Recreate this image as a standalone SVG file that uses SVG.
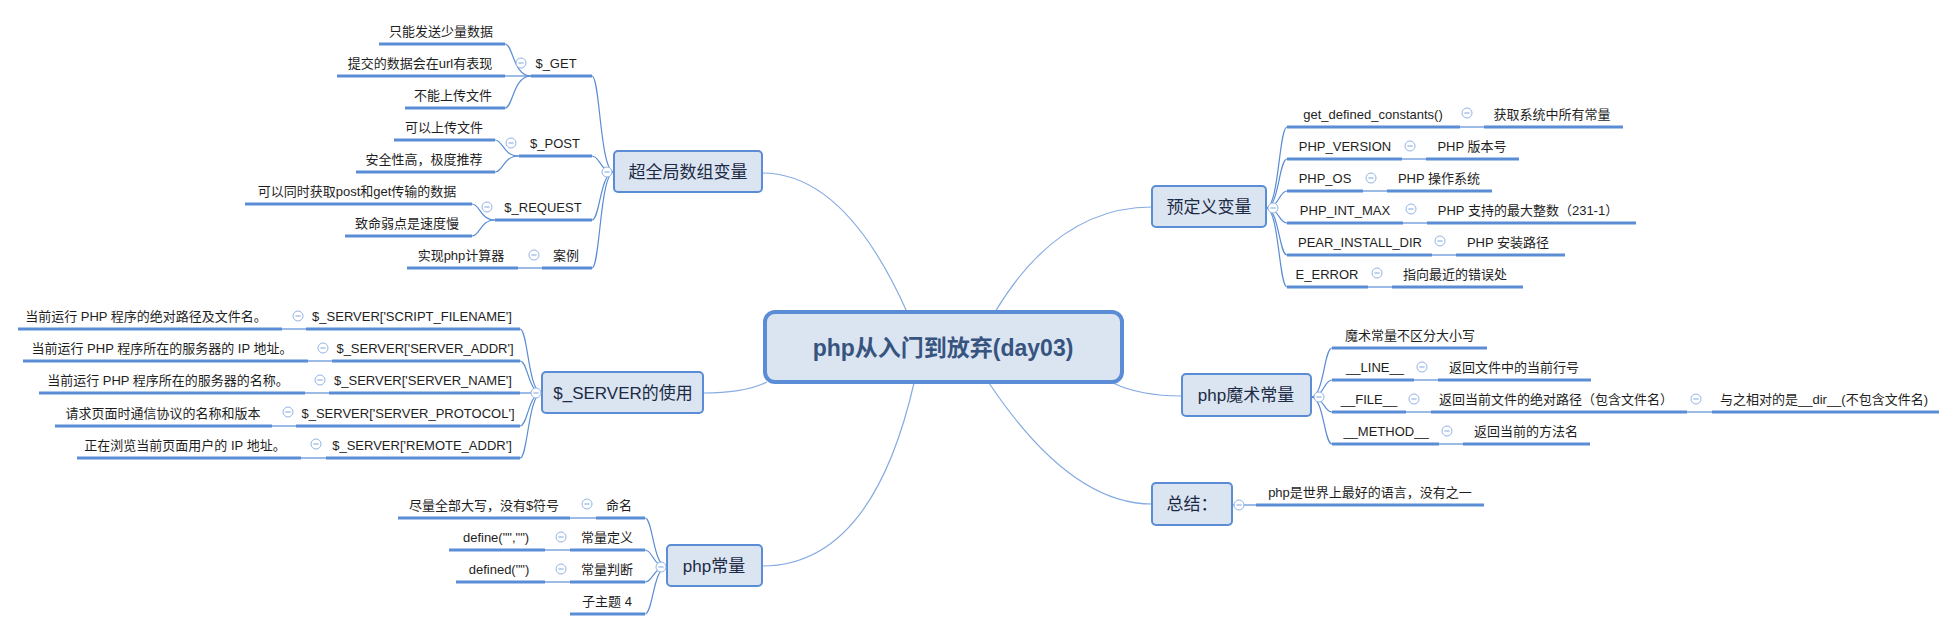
<svg xmlns="http://www.w3.org/2000/svg" width="1957" height="631" viewBox="0 0 1957 631">
<style>
.bg{fill:#ffffff}
.u{stroke:#5a8dd6;stroke-width:3;fill:none}
.l{stroke:#5a8dd6;stroke-width:1.2;fill:none}
.m{stroke:#86abe2;stroke-width:1.2;fill:none}
.t{font-family:"Liberation Sans","Noto Sans CJK SC",sans-serif;font-size:13px;fill:#1e1e1e;text-anchor:middle}
.bt{font-family:"Liberation Sans","Noto Sans CJK SC",sans-serif;font-size:17px;fill:#1d2a44;text-anchor:middle}
.ct{font-family:"Liberation Sans","Noto Sans CJK SC",sans-serif;font-size:23px;font-weight:bold;fill:#37547f;text-anchor:middle}
.box{fill:#dbe5f2;stroke:#5a8dd6;stroke-width:2}
.cbox{fill:#dbe5f2;stroke:#5a8dd6;stroke-width:4}
.tg{fill:#ffffff;stroke:#93b4e4;stroke-width:1}
.tm{stroke:#93b4e4;stroke-width:1.2}
</style>
<defs>
<g id="tog"><circle class="tg" cx="0" cy="0" r="5"/><line class="tm" x1="-2.6" y1="0" x2="2.6" y2="0"/></g>
</defs>
<rect class="bg" x="0" y="0" width="1957" height="631"/>

<g id="connectors">
<!-- central to branches -->
<path class="m" d="M907,312 Q845,173 762,173"/>
<path class="m" d="M995,312 Q1058,207 1152,207"/>
<path class="m" d="M767,382 Q745,393 703,393"/>
<path class="m" d="M1113,383 Q1140,396 1182,396"/>
<path class="m" d="M914,383 Q872,566 762,566"/>
<path class="m" d="M989,383 Q1070,504 1152,504"/>
<!-- 超全局数组变量 bracket -->
<path class="l" d="M592,76 C600,76 600,172 614,172"/>
<path class="l" d="M592,156 C600,156 600,172 614,172"/>
<path class="l" d="M592,220 C600,220 600,172 614,172"/>
<path class="l" d="M592,268 C600,268 600,172 614,172"/>
<!-- $_GET -->
<path class="l" d="M505,44 C513,44 513,76 531,76"/>
<path class="l" d="M505,76 L531,76"/>
<path class="l" d="M505,108 C513,108 513,76 531,76"/>
<!-- $_POST -->
<path class="l" d="M495,140 C503,140 503,156 519,156"/>
<path class="l" d="M495,172 C503,172 503,156 519,156"/>
<!-- $_REQUEST -->
<path class="l" d="M472,204 C480,204 480,220 495,220"/>
<path class="l" d="M472,236 C480,236 480,220 495,220"/>
<!-- 案例 -->
<path class="l" d="M518,268 L542,268"/>
<!-- $_SERVER bracket -->
<path class="l" d="M520,329 C528,329 528,393 542,393"/>
<path class="l" d="M520,361 C528,361 528,393 542,393"/>
<path class="l" d="M520,393 L542,393"/>
<path class="l" d="M520,426 C528,426 528,393 542,393"/>
<path class="l" d="M520,458 C528,458 528,393 542,393"/>
<path class="l" d="M282,329 L306,329"/>
<path class="l" d="M308,361 L332,361"/>
<path class="l" d="M305,393 L329,393"/>
<path class="l" d="M272,426 L296,426"/>
<path class="l" d="M301,458 L326,458"/>
<!-- php常量 bracket -->
<path class="l" d="M645,518 C653,518 653,567 667,567"/>
<path class="l" d="M645,550 C653,550 653,567 667,567"/>
<path class="l" d="M645,582 C653,582 653,567 667,567"/>
<path class="l" d="M645,614 C653,614 653,567 667,567"/>
<path class="l" d="M570,518 L596,518"/>
<path class="l" d="M545,550 L570,550"/>
<path class="l" d="M545,582 L570,582"/>
<!-- 预定义变量 bracket -->
<path class="l" d="M1266,208 C1279,208 1279,127 1287,127"/>
<path class="l" d="M1266,208 C1279,208 1279,159 1287,159"/>
<path class="l" d="M1266,208 C1279,208 1279,191 1287,191"/>
<path class="l" d="M1266,208 C1279,208 1279,223 1287,223"/>
<path class="l" d="M1266,208 C1279,208 1279,255 1287,255"/>
<path class="l" d="M1266,208 C1279,208 1279,287 1287,287"/>
<path class="l" d="M1460,127 L1484,127"/>
<path class="l" d="M1402,159 L1426,159"/>
<path class="l" d="M1363,191 L1387,191"/>
<path class="l" d="M1403,223 L1427,223"/>
<path class="l" d="M1432,255 L1456,255"/>
<path class="l" d="M1368,287 L1392,287"/>
<!-- php魔术常量 bracket -->
<path class="l" d="M1311,397 C1324,397 1324,348 1332,348"/>
<path class="l" d="M1311,397 C1324,397 1324,380 1332,380"/>
<path class="l" d="M1311,397 C1324,397 1324,412 1332,412"/>
<path class="l" d="M1311,397 C1324,397 1324,444 1332,444"/>
<path class="l" d="M1414,380 L1438,380"/>
<path class="l" d="M1406,412 L1431,412"/>
<path class="l" d="M1687,412 L1712,412"/>
<path class="l" d="M1439,444 L1463,444"/>
<!-- 总结 -->
<path class="l" d="M1232,505 L1256,505"/>
</g>

<g id="central">
<rect class="cbox" x="765" y="312" width="357" height="70" rx="10"/>
<text class="ct" x="943" y="356">php从入门到放弃(day03)</text>
</g>

<!-- 超全局数组变量 -->
<g id="n-superglobal">
<rect class="box" x="614" y="151" width="148" height="41" rx="4"/>
<text class="bt" x="688" y="178">超全局数组变量</text>
<use href="#tog" x="607" y="172"/>
</g>
<g id="n-get">
<line class="u" x1="531" y1="76" x2="592" y2="76"/>
<text class="t" x="556" y="68">$_GET</text>
<use href="#tog" x="521" y="63"/>
</g>
<g id="n-get-1"><line class="u" x1="379" y1="44" x2="505" y2="44"/><text class="t" x="441" y="36">只能发送少量数据</text></g>
<g id="n-get-2"><line class="u" x1="337" y1="76" x2="505" y2="76"/><text class="t" x="420" y="68">提交的数据会在url有表现</text></g>
<g id="n-get-3"><line class="u" x1="405" y1="108" x2="505" y2="108"/><text class="t" x="453" y="100">不能上传文件</text></g>
<g id="n-post">
<line class="u" x1="519" y1="156" x2="592" y2="156"/>
<text class="t" x="555" y="148">$_POST</text>
<use href="#tog" x="511" y="143"/>
</g>
<g id="n-post-1"><line class="u" x1="394" y1="140" x2="495" y2="140"/><text class="t" x="444" y="132">可以上传文件</text></g>
<g id="n-post-2"><line class="u" x1="356" y1="172" x2="495" y2="172"/><text class="t" x="424" y="164">安全性高，极度推荐</text></g>
<g id="n-request">
<line class="u" x1="495" y1="220" x2="592" y2="220"/>
<text class="t" x="543" y="212">$_REQUEST</text>
<use href="#tog" x="487" y="207"/>
</g>
<g id="n-request-1"><line class="u" x1="245" y1="204" x2="472" y2="204"/><text class="t" x="357" y="196">可以同时获取post和get传输的数据</text></g>
<g id="n-request-2"><line class="u" x1="345" y1="236" x2="472" y2="236"/><text class="t" x="407" y="228">致命弱点是速度慢</text></g>
<g id="n-case">
<line class="u" x1="542" y1="268" x2="592" y2="268"/>
<text class="t" x="566" y="260">案例</text>
<use href="#tog" x="534" y="255"/>
</g>
<g id="n-case-1"><line class="u" x1="407" y1="268" x2="518" y2="268"/><text class="t" x="461" y="260">实现php计算器</text></g>

<!-- $_SERVER的使用 -->
<g id="n-server">
<rect class="box" x="542" y="372" width="161" height="41" rx="4"/>
<text class="bt" x="623" y="399">$_SERVER的使用</text>
<use href="#tog" x="536" y="393"/>
</g>
<g id="n-s1">
<line class="u" x1="306" y1="329" x2="520" y2="329"/>
<text class="t" x="412" y="321">$_SERVER['SCRIPT_FILENAME']</text>
<use href="#tog" x="298" y="316"/>
</g>
<g id="n-s1-1"><line class="u" x1="18" y1="329" x2="282" y2="329"/><text class="t" x="146" y="321">当前运行 PHP 程序的绝对路径及文件名。</text></g>
<g id="n-s2">
<line class="u" x1="332" y1="361" x2="520" y2="361"/>
<text class="t" x="425" y="353">$_SERVER['SERVER_ADDR']</text>
<use href="#tog" x="323" y="348"/>
</g>
<g id="n-s2-1"><line class="u" x1="23" y1="361" x2="308" y2="361"/><text class="t" x="162" y="353">当前运行 PHP 程序所在的服务器的 IP 地址。</text></g>
<g id="n-s3">
<line class="u" x1="329" y1="393" x2="520" y2="393"/>
<text class="t" x="423" y="385">$_SERVER['SERVER_NAME']</text>
<use href="#tog" x="320" y="380"/>
</g>
<g id="n-s3-1"><line class="u" x1="39" y1="393" x2="305" y2="393"/><text class="t" x="168" y="385">当前运行 PHP 程序所在的服务器的名称。</text></g>
<g id="n-s4">
<line class="u" x1="296" y1="426" x2="520" y2="426"/>
<text class="t" x="408" y="418">$_SERVER['SERVER_PROTOCOL']</text>
<use href="#tog" x="288" y="412"/>
</g>
<g id="n-s4-1"><line class="u" x1="55" y1="426" x2="272" y2="426"/><text class="t" x="163" y="418">请求页面时通信协议的名称和版本</text></g>
<g id="n-s5">
<line class="u" x1="326" y1="458" x2="520" y2="458"/>
<text class="t" x="422" y="450">$_SERVER['REMOTE_ADDR']</text>
<use href="#tog" x="316" y="444"/>
</g>
<g id="n-s5-1"><line class="u" x1="77" y1="458" x2="301" y2="458"/><text class="t" x="185" y="450">正在浏览当前页面用户的 IP 地址。</text></g>

<!-- php常量 -->
<g id="n-const">
<rect class="box" x="667" y="545" width="95" height="41" rx="4"/>
<text class="bt" x="714" y="572">php常量</text>
<use href="#tog" x="661" y="567"/>
</g>
<g id="n-c1">
<line class="u" x1="596" y1="518" x2="645" y2="518"/>
<text class="t" x="619" y="510">命名</text>
<use href="#tog" x="587" y="504"/>
</g>
<g id="n-c1-1"><line class="u" x1="398" y1="518" x2="570" y2="518"/><text class="t" x="484" y="510">尽量全部大写，没有$符号</text></g>
<g id="n-c2">
<line class="u" x1="570" y1="550" x2="645" y2="550"/>
<text class="t" x="607" y="542">常量定义</text>
<use href="#tog" x="561" y="537"/>
</g>
<g id="n-c2-1"><line class="u" x1="449" y1="550" x2="545" y2="550"/><text class="t" x="496" y="542">define("","")</text></g>
<g id="n-c3">
<line class="u" x1="570" y1="582" x2="645" y2="582"/>
<text class="t" x="607" y="574">常量判断</text>
<use href="#tog" x="561" y="569"/>
</g>
<g id="n-c3-1"><line class="u" x1="456" y1="582" x2="545" y2="582"/><text class="t" x="499" y="574">defined("")</text></g>
<g id="n-c4"><line class="u" x1="570" y1="614" x2="645" y2="614"/><text class="t" x="607" y="606">子主题 4</text></g>

<!-- 预定义变量 -->
<g id="n-predef">
<rect class="box" x="1152" y="186" width="114" height="41" rx="4"/>
<text class="bt" x="1209" y="213">预定义变量</text>
<use href="#tog" x="1273" y="208"/>
</g>
<g id="n-p1">
<line class="u" x1="1287" y1="127" x2="1460" y2="127"/>
<text class="t" x="1373" y="119">get_defined_constants()</text>
<use href="#tog" x="1467" y="113"/>
</g>
<g id="n-p1-1"><line class="u" x1="1484" y1="127" x2="1623" y2="127"/><text class="t" x="1552" y="119">获取系统中所有常量</text></g>
<g id="n-p2">
<line class="u" x1="1287" y1="159" x2="1402" y2="159"/>
<text class="t" x="1345" y="151">PHP_VERSION</text>
<use href="#tog" x="1410" y="146"/>
</g>
<g id="n-p2-1"><line class="u" x1="1426" y1="159" x2="1519" y2="159"/><text class="t" x="1472" y="151">PHP 版本号</text></g>
<g id="n-p3">
<line class="u" x1="1287" y1="191" x2="1363" y2="191"/>
<text class="t" x="1325" y="183">PHP_OS</text>
<use href="#tog" x="1371" y="178"/>
</g>
<g id="n-p3-1"><line class="u" x1="1387" y1="191" x2="1492" y2="191"/><text class="t" x="1439" y="183">PHP 操作系统</text></g>
<g id="n-p4">
<line class="u" x1="1287" y1="223" x2="1403" y2="223"/>
<text class="t" x="1345" y="215">PHP_INT_MAX</text>
<use href="#tog" x="1411" y="209"/>
</g>
<g id="n-p4-1"><line class="u" x1="1427" y1="223" x2="1636" y2="223"/><text class="t" x="1528" y="215">PHP 支持的最大整数（231-1）</text></g>
<g id="n-p5">
<line class="u" x1="1287" y1="255" x2="1432" y2="255"/>
<text class="t" x="1360" y="247">PEAR_INSTALL_DIR</text>
<use href="#tog" x="1440" y="241"/>
</g>
<g id="n-p5-1"><line class="u" x1="1456" y1="255" x2="1565" y2="255"/><text class="t" x="1508" y="247">PHP 安装路径</text></g>
<g id="n-p6">
<line class="u" x1="1287" y1="287" x2="1368" y2="287"/>
<text class="t" x="1327" y="279">E_ERROR</text>
<use href="#tog" x="1377" y="273"/>
</g>
<g id="n-p6-1"><line class="u" x1="1392" y1="287" x2="1523" y2="287"/><text class="t" x="1455" y="279">指向最近的错误处</text></g>

<!-- php魔术常量 -->
<g id="n-magic">
<rect class="box" x="1182" y="374" width="129" height="42" rx="4"/>
<text class="bt" x="1246" y="401">php魔术常量</text>
<use href="#tog" x="1319" y="397"/>
</g>
<g id="n-m0"><line class="u" x1="1332" y1="348" x2="1487" y2="348"/><text class="t" x="1410" y="340">魔术常量不区分大小写</text></g>
<g id="n-m1">
<line class="u" x1="1332" y1="380" x2="1414" y2="380"/>
<text class="t" x="1375" y="372">__LINE__</text>
<use href="#tog" x="1422" y="367"/>
</g>
<g id="n-m1-1"><line class="u" x1="1438" y1="380" x2="1591" y2="380"/><text class="t" x="1514" y="372">返回文件中的当前行号</text></g>
<g id="n-m2">
<line class="u" x1="1332" y1="412" x2="1406" y2="412"/>
<text class="t" x="1369" y="404">__FILE__</text>
<use href="#tog" x="1414" y="399"/>
</g>
<g id="n-m2-1">
<line class="u" x1="1431" y1="412" x2="1687" y2="412"/>
<text class="t" x="1556" y="404">返回当前文件的绝对路径（包含文件名）</text>
<use href="#tog" x="1696" y="399"/>
</g>
<g id="n-m2-1-1"><line class="u" x1="1712" y1="412" x2="1939" y2="412"/><text class="t" x="1824" y="404">与之相对的是__dir__(不包含文件名)</text></g>
<g id="n-m3">
<line class="u" x1="1332" y1="444" x2="1439" y2="444"/>
<text class="t" x="1386" y="436">__METHOD__</text>
<use href="#tog" x="1447" y="431"/>
</g>
<g id="n-m3-1"><line class="u" x1="1463" y1="444" x2="1590" y2="444"/><text class="t" x="1526" y="436">返回当前的方法名</text></g>

<!-- 总结 -->
<g id="n-summary">
<rect class="box" x="1152" y="483" width="80" height="42" rx="4"/>
<text class="bt" x="1192" y="510">总结：</text>
<use href="#tog" x="1239" y="505"/>
</g>
<g id="n-summary-1"><line class="u" x1="1256" y1="505" x2="1484" y2="505"/><text class="t" x="1370" y="497">php是世界上最好的语言，没有之一</text></g>
</svg>
